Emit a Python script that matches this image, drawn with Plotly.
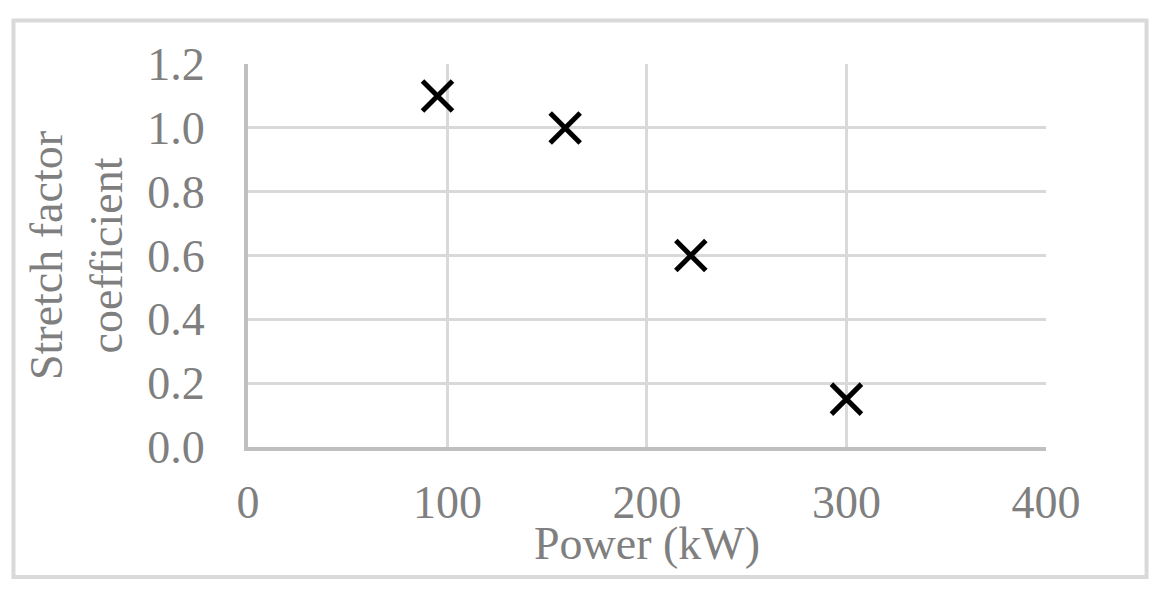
import plotly.graph_objects as go

power_kw = [95, 159, 222, 300]
stretch_coeff = [1.1, 1.0, 0.6, 0.15]
x_ticks = [0, 100, 200, 300, 400]
y_ticks = [0.0, 0.2, 0.4, 0.6, 0.8, 1.0, 1.2]

GREY = "#7f7f7f"
FONT = "Liberation Serif"

fig = go.Figure()
fig.add_trace(go.Scatter(
    x=power_kw, y=stretch_coeff, mode="markers",
    marker=dict(symbol="x-thin", size=30, color="black",
                line=dict(width=5, color="black")),
    showlegend=False, hoverinfo="skip"))

fig.update_layout(
    width=1165, height=596,
    margin=dict(l=240, r=127, t=56, b=157),
    paper_bgcolor="white", plot_bgcolor="white",
    font=dict(family=FONT, size=46, color=GREY),
    xaxis=dict(range=[0, 400.05], tickvals=x_ticks, ticktext=[str(v) for v in x_ticks],
               showgrid=True, gridcolor="#d9d9d9", gridwidth=3,
               showline=True, linecolor="#bfbfbf", linewidth=4,
               zeroline=False, ticks="", ticklabelstandoff=12,
               tickfont=dict(family=FONT, size=46, color=GREY)),
    yaxis=dict(range=[0, 1.2003], tickvals=y_ticks, ticktext=[f"{v:.1f}" for v in y_ticks],
               showgrid=True, gridcolor="#d9d9d9", gridwidth=3,
               showline=True, linecolor="#bfbfbf", linewidth=4,
               zeroline=False, ticks="", ticklabelstandoff=30,
               tickfont=dict(family=FONT, size=46, color=GREY),
               title=dict(text="Stretch factor<br>coefficient", standoff=11,
                          font=dict(family=FONT, size=46, color=GREY))),
    annotations=[dict(text="Power (kW)", xref="paper", yref="paper",
                      x=0.5, y=-0.253, xanchor="center", yanchor="middle",
                      showarrow=False,
                      font=dict(family=FONT, size=46, color=GREY))],
    shapes=[dict(type="rect", xref="paper", yref="paper",
                 x0=-0.2939, x1=1.126, y0=-0.3394, y1=1.1136,
                 line=dict(color="#d9d9d9", width=4), layer="below")],
)

fig.write_html("out.html")
